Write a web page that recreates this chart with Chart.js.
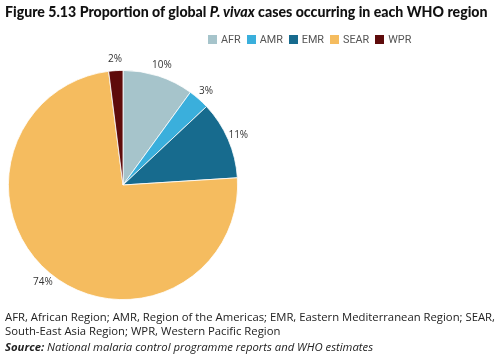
<!DOCTYPE html>
<html><head><meta charset="utf-8">
<script src="https://cdn.jsdelivr.net/npm/chart.js@4"></script>
<style>
html,body{margin:0;padding:0;background:#fff;}
#wrap{position:relative;width:500px;height:354px;overflow:hidden;}
#c{position:absolute;left:0;top:0;}
#title{position:absolute;left:5px;top:3px;font-family:"Lato",sans-serif;font-weight:900;font-size:15px;color:#111;white-space:nowrap;}
#legend{position:absolute;left:208px;top:33px;font-family:"Roboto",sans-serif;font-size:10.8px;color:#555;white-space:nowrap;}
#legend span.it{display:inline-block;margin-right:6px;}
#legend i{display:inline-block;width:9px;height:9px;margin-right:4px;vertical-align:-1px;}
#notes{position:absolute;left:5px;top:310px;font-family:"Open Sans",sans-serif;font-size:11.3px;color:#222;line-height:14px;white-space:nowrap;}
#src{margin-top:2px;}
</style></head>
<body><div id="wrap">
<canvas id="c" width="500" height="354"></canvas>
<div id="title">Figure 5.13 Proportion of global <i>P. vivax</i> cases occurring in each WHO region</div>
<div id="legend"></div>
<div id="notes">AFR, African Region; AMR, Region of the Americas; EMR, Eastern Mediterranean Region; SEAR,<br>South-East Asia Region; WPR, Western Pacific Region<div id="src"><b><i>Source:</i></b> <i>National malaria control programme reports and WHO estimates</i></div></div>
</div>
<script>
const categories = ["AFR","AMR","EMR","SEAR","WPR"];
const shares = [10, 3, 11, 74, 2];
const colours = ["#a6c4cb","#3aafdc","#176b8e","#f5bc5f","#5e0b0b"];

// fit title width
(function(){
  const t=document.getElementById('title');
  let fs=15;
  t.style.fontSize=fs+'px';
  const w=t.scrollWidth;
  fs=fs*483/w; t.style.fontSize=fs.toFixed(2)+'px';
})();

const leg = document.getElementById('legend');
categories.forEach((c,i)=>{
  const s=document.createElement('span'); s.className='it';
  s.innerHTML='<i style="background:'+colours[i]+'"></i>'+c;
  leg.appendChild(s);
});

const outLabels = {
  id:'outLabels',
  afterDatasetsDraw(chart){
    const ctx=chart.ctx;
    const meta=chart.getDatasetMeta(0);
    ctx.save();
    ctx.font='10px "Open Sans", sans-serif';
    ctx.fillStyle='#333';
    ctx.textAlign='center'; ctx.textBaseline='middle';
    meta.data.forEach((arc,i)=>{
      const p=arc.getProps(['x','y','startAngle','endAngle','outerRadius'],true);
      const a=(p.startAngle+p.endAngle)/2;
      const r=p.outerRadius+11;
      ctx.fillText(shares[i]+'%', p.x+Math.cos(a)*r, p.y+Math.sin(a)*r);
    });
    ctx.restore();
  }
};

new Chart(document.getElementById('c'),{
  type:'pie',
  data:{labels:categories,datasets:[{data:shares,backgroundColor:colours,borderColor:'#ffffff',borderWidth:0.8}]},
  options:{
    responsive:false,animation:false,
    layout:{padding:{left:8,right:262,top:70,bottom:54}},
    plugins:{legend:{display:false},tooltip:{enabled:false}}
  },
  plugins:[outLabels]
});
</script>
</body></html>
